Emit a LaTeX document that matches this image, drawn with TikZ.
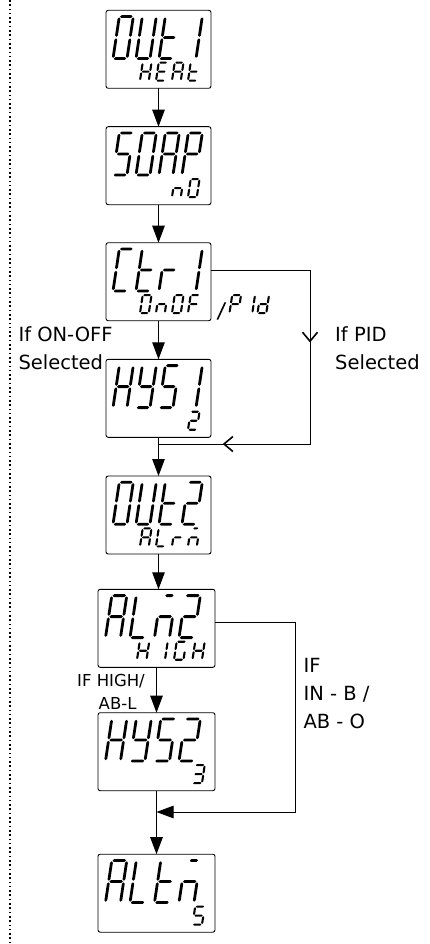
\documentclass[tikz,border=0pt]{standalone}
\usepackage{fontspec}
\setmainfont{DejaVu Sans}
\usetikzlibrary{arrows.meta,decorations.markings}

% tapered seven-segment pieces (local coordinates, v upward)
\newcommand\HS[3]{\fill ({#1},{#3}) -- ({#1+\Dt/2},{#3+\Dt/2}) -- ({#2-\Dt/2},{#3+\Dt/2}) -- ({#2},{#3}) -- ({#2-\Dt/2},{#3-\Dt/2}) -- ({#1+\Dt/2},{#3-\Dt/2}) -- cycle;}
\newcommand\VS[3]{\fill ({#1},{#2}) -- ({#1+\Dt/2},{#2+\Dt/2}) -- ({#1+\Dt/2},{#3-\Dt/2}) -- ({#1},{#3}) -- ({#1-\Dt/2},{#3-\Dt/2}) -- ({#1-\Dt/2},{#2+\Dt/2}) -- cycle;}
\def\SGa{\HS{\Dg}{\Dw-\Dg}{\Dh}}
\def\SGb{\VS{\Dw}{\Dh/2+\Dg}{\Dh-\Dg}}
\def\SGc{\VS{\Dw}{\Dg}{\Dh/2-\Dg}}
\def\SGd{\HS{\Dg}{\Dw-\Dg}{0}}
\def\SGe{\VS{0}{\Dg}{\Dh/2-\Dg}}
\def\SGf{\VS{0}{\Dh/2+\Dg}{\Dh-\Dg}}
\def\SGg{\HS{\Dg}{\Dw-\Dg}{\Dh/2}}
\def\SGm{\HS{0.3*\Dw}{0.85*\Dw}{\Dh}}

\newcommand\defch[2]{\expandafter\def\csname CH#1\endcsname{#2}}
\defch{O}{a,b,c,d,e,f}
\defch{U}{b,c,d,e,f}
\defch{t}{d,e,f,g}
\defch{1}{b,c}
\defch{I}{b,c}
\defch{H}{b,c,e,f,g}
\defch{E}{a,d,e,f,g}
\defch{A}{a,b,c,e,f,g}
\defch{S}{a,c,d,f,g}
\defch{P}{a,b,e,f,g}
\defch{n}{c,e,g}
\defch{C}{a,d,e,f}
\defch{r}{e,g}
\defch{F}{a,e,f,g}
\defch{d}{b,c,d,e,g}
\defch{Y}{b,c,d,f,g}
\defch{2}{a,b,d,e,g}
\defch{m}{c,e,g,m}
\defch{L}{d,e,f}
\defch{G}{a,c,d,e,f}
\defch{3}{a,b,c,d,g}
\defch{5}{a,c,d,f,g}
\defch{z}{z}

\def\Sl{0.15}
% #1 x0, #2 baseline y (image coords), #3 pitch, #4 w, #5 h, #6 thickness, #7 chars
\newcommand\Row[7]{%
  \foreach \Dc [count=\Di from 0] in {#7}{%
    \edef\Dsegs{\csname CH\Dc\endcsname}%
    \begin{scope}[shift={({#1+\Di*#3},{#2})}, y=1pt, xslant=\Sl]
      \def\Dw{#4}\def\Dh{#5}\def\Dt{#6}\pgfmathsetmacro\Dg{0.25*#6+0.1}%
      \foreach \Ds in \Dsegs {\csname SG\Ds\endcsname}%
    \end{scope}}}
\newcommand\BigN[3]{\Row{#1}{#2}{23}{14}{42}{2.8}{#3}}
\newcommand\SmallN[3]{\Row{#1}{#2}{16}{8.8}{18}{2.1}{#3}}
\newcommand\BigW[3]{\Row{#1}{#2}{24.5}{15}{42}{2.8}{#3}}
\newcommand\SmallW[3]{\Row{#1}{#2}{18.5}{9.5}{18}{2.1}{#3}}

\begin{document}
\begin{tikzpicture}[x=1pt,y=-1pt,
  dbox/.style={draw, line width=0.9pt, rounded corners=2.2pt, minimum width=105pt, minimum height=78pt, inner sep=0pt, outer sep=0pt},
  wbox/.style={dbox, minimum width=117pt},
  conn/.style={line width=1pt},
  arr/.style={conn, -{Triangle[length=17pt,width=12.5pt]}},
  vopen/.style={conn, postaction={decorate}},
  barb/.style={},
  lbl/.style={inner sep=0pt, align=left, font=\fontsize{19.5}{28.5}\selectfont},
  slbl/.style={inner sep=0pt, align=right, font=\fontsize{16.5}{23}\selectfont},
]
\useasboundingbox (0,0) rectangle (430,944);

% dotted margin line
\draw[line width=1.6pt, dash pattern=on 1.6pt off 2.7pt] (10,0) -- (10,943);

% display boxes
\node[dbox] (b1) at (158.5,49.3) {};
\node[dbox] (b2) at (158.5,165.7) {};
\node[dbox] (b3) at (158.5,281.7) {};
\node[dbox] (b4) at (158.5,398.3) {};
\node[dbox] (b5) at (158.5,515) {};
\node[wbox] (b6) at (156.5,628.3) {};
\node[wbox] (b7) at (156.5,751.7) {};
\node[wbox] (b8) at (156.5,893.2) {};

% display contents
\BigN{113}{58.6}{O,U,t,1}   \SmallN{140}{80.7}{H,E,A,t}
\BigN{113}{175}{S,O,A,P}    \SmallN{140}{197.1}{z,z,n,O}
\BigN{113}{291}{C,t,r,1}    \SmallN{140}{313.1}{O,n,O,F}
\Row{229.5}{313.1}{14}{8.8}{18}{2.1}{P,I,d}
\fill (216.5,319.6) -- (218.3,319.6) -- (226.2,302.4) -- (224.4,302.4) -- cycle;
\BigN{113}{407.6}{H,Y,S,1}  \SmallN{140}{429.7}{z,z,z,2}
\BigN{113}{524.3}{O,U,t,2}  \SmallN{140}{546.4}{A,L,r,m}
\BigW{105.5}{637.6}{A,L,m,2} \SmallW{137}{659.7}{H,I,G,H}
\BigW{105.5}{761}{H,Y,S,2}   \SmallW{137}{783.1}{z,z,z,3}
\BigW{105.5}{902.5}{A,L,t,m} \SmallW{137}{924.6}{z,z,z,5}

% main flow
\draw[arr] (b1) -- (b2);
\draw[arr] (b2) -- (b3);
\draw[arr] (b3) -- (b4);
\draw[arr] (b4) -- (b5);
\draw[arr] (b5.south) -- (b5.south |- b6.north);
\draw[arr] (b6) -- (b7);
\draw[arr] (b7) -- (b8);

% PID bypass
\coordinate (c1a) at (310,270.5);
\coordinate (c1b) at (310,444);
\coordinate (j1) at (158.5,444);
\draw[vopen, decoration={markings,
   mark=at position 171pt with {\arrow{Straight Barb[length=9pt,width=15pt,line width=1.6pt]}},
   mark=at position 359.8pt with {\arrow{Straight Barb[length=9pt,width=15pt,line width=1.6pt]}}}]
  (b3.east |- c1a) -- (c1a) -- (c1b) -- (j1);

% IN-B / AB-O bypass
\coordinate (c2a) at (295,622.7);
\coordinate (c2b) at (295,812);
\coordinate (j2) at (156.5,812);
\draw[arr] (b6.east |- c2a) -- (c2a) -- (c2b) -- (j2);

% labels
\node[lbl, anchor=north west] (t1) at (18.3,326.2) {If ON-OFF\\Selected};
\node[lbl, anchor=north west] (t2) at (335,326.2) {If PID\\Selected};
\node[slbl, anchor=north east] (t3) at (145,674) {IF HIGH/\\AB-L\kern8.3pt};
\node[lbl, anchor=north west, font=\fontsize{19.5}{27.7}\selectfont] (t4) at (303.3,658.5) {IF\\IN - B /\\AB - O};
\end{tikzpicture}
\end{document}
